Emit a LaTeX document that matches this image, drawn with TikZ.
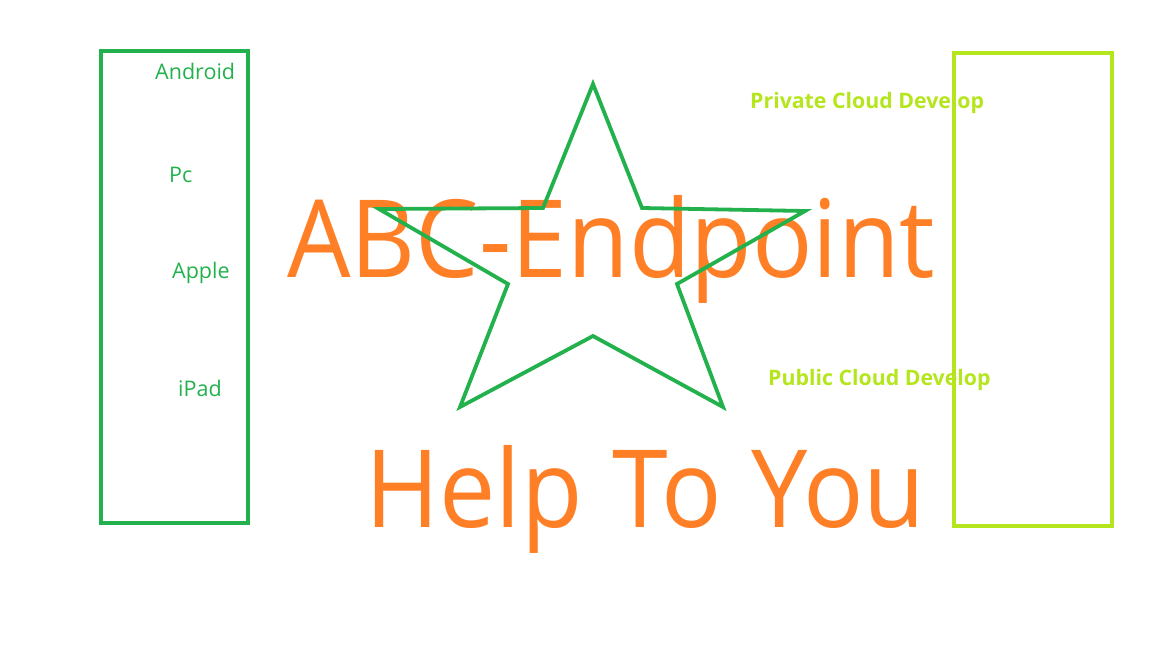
\documentclass[tikz,border=0pt]{standalone}
\usepackage{fontspec}
\setmainfont{Open Sans}
\newfontfamily\headfont{Open Sans}[FakeStretch=0.93]
\usepackage{tikz}
\usetikzlibrary{positioning}

\definecolor{paintgreen}{RGB}{34,177,76}
\definecolor{paintorange}{RGB}{255,127,39}
\definecolor{paintlime}{RGB}{181,230,29}

\begin{document}
\begin{tikzpicture}[
  x=1pt, y=-1pt,
  devbox/.style={draw=paintgreen, line width=4pt, minimum width=147, minimum height=472, inner sep=0pt},
  cloudbox/.style={draw=paintlime, line width=4pt, minimum width=158, minimum height=473, inner sep=0pt},
  devtxt/.style={text=paintgreen, font=\fontsize{21.5}{24}\selectfont, anchor=base west, inner sep=0pt},
  cloudtxt/.style={text=paintlime, font=\bfseries\fontsize{21.3}{24}\selectfont, anchor=base west, inner sep=0pt},
  bigtxt/.style={text=paintorange, font=\headfont\fontsize{108}{120}\selectfont, anchor=base west, inner sep=0pt},
  starline/.style={draw=paintgreen, line width=3.8pt, line join=miter}
]
\useasboundingbox (0,0) rectangle (1152,648);
% headline
\node[bigtxt] (title) at (287,277) {ABC-Endpoint};
\node[bigtxt] (slogan) at (365,527) {Help\hspace{4pt} To\hspace{4pt} You};
% device column
\node[devbox] (devices) at (174.5,287) {};
\node[devtxt] (android) at (155,79) {Android};
\node[devtxt] (pc) at (169,182) {Pc};
\node[devtxt] (apple) at (172,278) {Apple};
\node[devtxt] (ipad) at (178,396) {iPad};
% cloud column
\node[cloudtxt] (private) at (750,108) {Private Cloud Develop};
\node[cloudtxt] (public) at (768,385) {Public Cloud Develop};
\node[cloudbox] (clouds) at (1033,289.5) {};
% star
\draw[starline] (593,84) -- (642,208) -- (805,211) -- (677,284) -- (723,407)
  -- (593,336) -- (460,407) -- (508,284) -- (379,209) -- (543,208) -- cycle;
\end{tikzpicture}
\end{document}
